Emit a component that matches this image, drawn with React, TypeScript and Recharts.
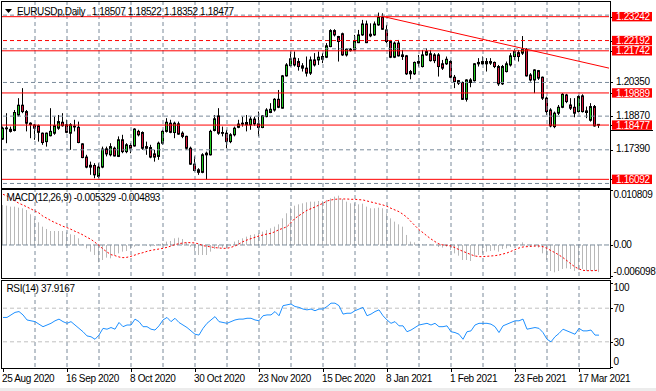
import React from "react";
import { ComposedChart, Bar, Line, XAxis, YAxis, ReferenceLine } from "recharts";

const FONT = "'Liberation Sans', Arial, sans-serif";
const GREEN = "#20cc20";
const RED = "#d8143a";
const GRID = "#7a8a9a";

// daily bars, 25 Aug 2020 .. 24 Mar 2021
const dateLabels = ["25 Aug 2020", "16 Sep 2020", "8 Oct 2020", "30 Oct 2020", "23 Nov 2020", "15 Dec 2020", "8 Jan 2021", "1 Feb 2021", "23 Feb 2021", "17 Mar 2021"];
const dateIdx = [0, 16, 32, 48, 64, 80, 96, 112, 128, 144];
const gridIdx = [8, 16, 24, 32, 40, 48, 56, 64, 72, 80, 88, 96, 104, 112, 120, 128, 136, 144];

const open = [
  1.1786, 1.1834, 1.1829, 1.1824, 1.1892, 1.1935, 1.1907, 1.1856, 1.1848, 1.1845,
  1.1812, 1.1775, 1.1801, 1.1812, 1.1834, 1.1860, 1.1849, 1.1812, 1.1843, 1.1838,
  1.1765, 1.1707, 1.1671, 1.1670, 1.1622, 1.1663, 1.1743, 1.1717, 1.1746, 1.1710,
  1.1783, 1.1731, 1.1758, 1.1756, 1.1820, 1.1815, 1.1753, 1.1749, 1.1721, 1.1710,
  1.1768, 1.1820, 1.1856, 1.1815, 1.1853, 1.1812, 1.1798, 1.1746, 1.1676, 1.1651,
  1.1640, 1.1717, 1.1717, 1.1824, 1.1888, 1.1815, 1.1812, 1.1775, 1.1805, 1.1838,
  1.1852, 1.1859, 1.1849, 1.1874, 1.1853, 1.1837, 1.1885, 1.1903, 1.1914, 1.1961,
  1.1922, 1.2064, 1.2109, 1.2142, 1.2127, 1.2108, 1.2098, 1.2076, 1.2134, 1.2134,
  1.2137, 1.2146, 1.2193, 1.2263, 1.2237, 1.2249, 1.2156, 1.2181, 1.2178, 1.2210,
  1.2244, 1.2292, 1.2240, 1.2244, 1.2288, 1.2322, 1.2266, 1.2215, 1.2146, 1.2208,
  1.2156, 1.2152, 1.2083, 1.2073, 1.2120, 1.2105, 1.2156, 1.2161, 1.2156, 1.2156,
  1.2117, 1.2117, 1.2127, 1.2058, 1.2043, 1.2035, 1.1961, 1.2046, 1.2043, 1.2117,
  1.2117, 1.2127, 1.2120, 1.2123, 1.2105, 1.2029, 1.2083, 1.2112, 1.2149, 1.2166,
  1.2164, 1.2181, 1.2068, 1.2046, 1.2087, 1.2058, 1.1966, 1.1914, 1.1841, 1.1900,
  1.1926, 1.1980, 1.1936, 1.1926, 1.1907, 1.1976, 1.1910, 1.1869, 1.1929, 1.18507,
];
const high = [
  1.1841, 1.1900, 1.1841, 1.1914, 1.1966, 1.2010, 1.1914, 1.1860, 1.1852, 1.1850,
  1.1815, 1.1815, 1.1922, 1.1885, 1.1892, 1.1900, 1.1871, 1.1856, 1.1871, 1.1863,
  1.1768, 1.1717, 1.1687, 1.1680, 1.1680, 1.1753, 1.1753, 1.1768, 1.1753, 1.1798,
  1.1805, 1.1768, 1.1768, 1.1834, 1.1827, 1.1820, 1.1775, 1.1761, 1.1739, 1.1775,
  1.1827, 1.1878, 1.1871, 1.1863, 1.1863, 1.1820, 1.1801, 1.1753, 1.1710, 1.1658,
  1.1724, 1.1731, 1.1827, 1.1892, 1.1922, 1.1841, 1.1827, 1.1812, 1.1841, 1.1871,
  1.1885, 1.1892, 1.1885, 1.1885, 1.1907, 1.1892, 1.1922, 1.1944, 1.1966, 1.2002,
  1.2068, 1.2120, 1.2171, 1.2171, 1.2142, 1.2120, 1.2149, 1.2149, 1.2164, 1.2171,
  1.2164, 1.2208, 1.2269, 1.2269, 1.2240, 1.2254, 1.2186, 1.2186, 1.2244, 1.2266,
  1.2310, 1.2307, 1.2295, 1.2303, 1.2342, 1.2339, 1.2288, 1.2222, 1.2215, 1.2222,
  1.2178, 1.2156, 1.2090, 1.2127, 1.2156, 1.2178, 1.2186, 1.2178, 1.2164, 1.2164,
  1.2134, 1.2149, 1.2134, 1.2068, 1.2046, 1.2039, 1.2049, 1.2054, 1.2120, 1.2142,
  1.2149, 1.2142, 1.2142, 1.2127, 1.2112, 1.2112, 1.2127, 1.2164, 1.2181, 1.2178,
  1.2239, 1.2186, 1.2076, 1.2093, 1.2090, 1.2061, 1.1973, 1.1922, 1.1907, 1.1936,
  1.1988, 1.1985, 1.1966, 1.1966, 1.1980, 1.1983, 1.1929, 1.1944, 1.1936, 1.18522,
];
const low = [
  1.1783, 1.1768, 1.1815, 1.1820, 1.1885, 1.1900, 1.1820, 1.1790, 1.1783, 1.1775,
  1.1761, 1.1753, 1.1798, 1.1805, 1.1827, 1.1841, 1.1812, 1.1739, 1.1820, 1.1768,
  1.1702, 1.1658, 1.1629, 1.1614, 1.1614, 1.1658, 1.1710, 1.1710, 1.1710, 1.1707,
  1.1724, 1.1724, 1.1724, 1.1753, 1.1798, 1.1739, 1.1717, 1.1702, 1.1687, 1.1695,
  1.1761, 1.1815, 1.1812, 1.1790, 1.1805, 1.1790, 1.1739, 1.1673, 1.1644, 1.1629,
  1.1636, 1.1609, 1.1714, 1.1820, 1.1805, 1.1798, 1.1746, 1.1768, 1.1798, 1.1834,
  1.1841, 1.1820, 1.1827, 1.1845, 1.1798, 1.1834, 1.1882, 1.1900, 1.1907, 1.1922,
  1.1920, 1.2061, 1.2105, 1.2105, 1.2087, 1.2083, 1.2061, 1.2068, 1.2105, 1.2112,
  1.2120, 1.2142, 1.2190, 1.2237, 1.2127, 1.2152, 1.2149, 1.2171, 1.2175, 1.2208,
  1.2240, 1.2208, 1.2234, 1.2240, 1.2284, 1.2266, 1.2208, 1.2142, 1.2142, 1.2149,
  1.2134, 1.2068, 1.2049, 1.2068, 1.2105, 1.2101, 1.2152, 1.2127, 1.2120, 1.2061,
  1.2090, 1.2112, 1.2054, 1.2010, 1.2024, 1.1958, 1.1951, 1.2014, 1.2039, 1.2105,
  1.2112, 1.2083, 1.2112, 1.2098, 1.2020, 1.2024, 1.2079, 1.2105, 1.2134, 1.2127,
  1.2156, 1.2061, 1.2039, 1.1988, 1.2046, 1.1958, 1.1892, 1.1838, 1.1834, 1.1892,
  1.1922, 1.1944, 1.1914, 1.1882, 1.1903, 1.1903, 1.1878, 1.1863, 1.1841, 1.18352,
];
const close = [
  1.1834, 1.1835, 1.1820, 1.1903, 1.1935, 1.1907, 1.1856, 1.1850, 1.1834, 1.1816,
  1.1771, 1.1812, 1.1820, 1.1845, 1.1863, 1.1845, 1.1816, 1.1849, 1.1841, 1.1771,
  1.1705, 1.1663, 1.1663, 1.1629, 1.1663, 1.1742, 1.1721, 1.1753, 1.1712, 1.1783,
  1.1731, 1.1761, 1.1746, 1.1830, 1.1805, 1.1746, 1.1746, 1.1707, 1.1707, 1.1768,
  1.1820, 1.1860, 1.1816, 1.1856, 1.1808, 1.1798, 1.1746, 1.1676, 1.1648, 1.1640,
  1.1717, 1.1724, 1.1820, 1.1875, 1.1812, 1.1812, 1.1775, 1.1805, 1.1834, 1.1852,
  1.1856, 1.1849, 1.1874, 1.1853, 1.1837, 1.1888, 1.1914, 1.1917, 1.1961, 1.1926,
  1.2064, 1.2112, 1.2139, 1.2112, 1.2105, 1.2098, 1.2076, 1.2134, 1.2112, 1.2146,
  1.2149, 1.2196, 1.2263, 1.2244, 1.2215, 1.2156, 1.2181, 1.2175, 1.2218, 1.2244,
  1.2292, 1.2210, 1.2247, 1.2292, 1.2322, 1.2269, 1.2215, 1.2146, 1.2208, 1.2152,
  1.2149, 1.2073, 1.2073, 1.2123, 1.2127, 1.2156, 1.2171, 1.2131, 1.2131, 1.2105,
  1.2098, 1.2137, 1.2058, 1.2039, 1.2032, 1.1961, 1.2046, 1.2035, 1.2117, 1.2123,
  1.2127, 1.2117, 1.2127, 1.2105, 1.2029, 1.2105, 1.2117, 1.2152, 1.2171, 1.2149,
  1.2181, 1.2064, 1.2046, 1.2090, 1.2054, 1.1966, 1.1907, 1.1844, 1.1900, 1.1926,
  1.1983, 1.1951, 1.1922, 1.1900, 1.1973, 1.1907, 1.1903, 1.1929, 1.1844, 1.18477,
];

// MACD(12,26,9): main (histogram) and signal
const macd = [
  0.00786, 0.00773, 0.00754, 0.00754, 0.00734, 0.00721, 0.00688, 0.00603, 0.00524, 0.00446,
  0.0036, 0.00315, 0.00275, 0.00275, 0.00275, 0.00275, 0.00249, 0.0021, 0.00197, 0.00131,
  0.00013, -0.00066, -0.00131, -0.00197, -0.00341, -0.00295, -0.00249, -0.00262, -0.00197, -0.00164,
  -0.00131, -0.00118, -0.00079, -0.00033, -0.00013, -0.00002, -0.00013, -0.00033, -0.0002, 0.00013,
  0.00033, 0.00066, 0.00079, 0.00131, 0.00144, 0.00118, 0.00052, -0.00033, -0.00118, -0.00197,
  -0.00197, -0.00197, -0.00131, -0.00079, -0.00066, -0.00052, -0.00066, -0.00013, 0.00066, 0.00098,
  0.00131, 0.00164, 0.00197, 0.0021, 0.00229, 0.00262, 0.00295, 0.00328, 0.0036, 0.00406,
  0.00524, 0.00623, 0.00734, 0.00773, 0.00799, 0.00819, 0.00839, 0.00852, 0.00852, 0.00865,
  0.00865, 0.00885, 0.00917, 0.0095, 0.0097, 0.00904, 0.00852, 0.00819, 0.00819, 0.00799,
  0.00813, 0.00754, 0.00721, 0.00721, 0.00734, 0.00721, 0.00623, 0.00524, 0.00459, 0.00406,
  0.0036, 0.00197, 0.00066, 0.00052, 0.00026, 0.00013, 0.00013, 0.00013, -0.00002, -0.00039,
  -0.00052, -0.00033, -0.00098, -0.00164, -0.0021, -0.00295, -0.00295, -0.00315, -0.00229, -0.00197,
  -0.00164, -0.00131, -0.00118, -0.00105, -0.00131, -0.00079, -0.00066, -0.00039, -0.00013, 0.00013,
  0.00052, -0.00013, -0.00033, -0.00033, -0.00052, -0.00164, -0.00295, -0.00511, -0.00537, -0.00511,
  -0.00472, -0.00459, -0.00472, -0.00511, -0.00491, -0.00472, -0.00511, -0.00511, -0.00511, -0.005329,
];
const signal = [
  0.00996, 0.00963, 0.00917, 0.00865, 0.00819, 0.00786, 0.00747, 0.00708, 0.00668, 0.00629,
  0.00564, 0.00524, 0.00478, 0.00439, 0.00406, 0.00367, 0.00341, 0.00308, 0.00269, 0.00236,
  0.00197, 0.00151, 0.00111, 0.00052, -0.00007, -0.00079, -0.00138, -0.0019, -0.0021, -0.00236,
  -0.00249, -0.00242, -0.00223, -0.00197, -0.0017, -0.00151, -0.00125, -0.00105, -0.00092, -0.00079,
  -0.00066, -0.00046, -0.0002, 0.00007, 0.00026, 0.00039, 0.00046, 0.00046, 0.00039, 0.0002,
  -0.00013, -0.00026, -0.00039, -0.00052, -0.00059, -0.00066, -0.00066, -0.00046, -0.0002, 0.0002,
  0.00066, 0.00098, 0.00125, 0.00151, 0.00177, 0.00197, 0.00216, 0.00229, 0.00262, 0.00301,
  0.00328, 0.0036, 0.00439, 0.00524, 0.00577, 0.00629, 0.00682, 0.00714, 0.00747, 0.00786,
  0.00819, 0.00865, 0.00885, 0.00898, 0.00904, 0.00904, 0.00904, 0.00898, 0.00898, 0.00891,
  0.00885, 0.00865, 0.00845, 0.00826, 0.00806, 0.00786, 0.0076, 0.00721, 0.00688, 0.00655,
  0.00603, 0.00544, 0.00459, 0.0038, 0.00301, 0.00242, 0.00177, 0.00118, 0.00066, 0.0002,
  0.0, -0.00007, -0.0002, -0.00052, -0.00092, -0.00125, -0.00157, -0.0019, -0.00216, -0.00229,
  -0.00229, -0.00223, -0.00216, -0.0021, -0.00197, -0.00177, -0.00157, -0.00125, -0.00092, -0.00059,
  -0.00039, -0.00033, -0.00026, -0.0002, -0.0002, -0.00033, -0.00066, -0.00111, -0.00151, -0.00197,
  -0.00249, -0.00308, -0.00374, -0.00432, -0.00472, -0.00498, -0.00505, -0.00505, -0.00505, -0.004893,
];

// RSI(14)
const rsi = [
  59, 59, 62, 65, 66, 62, 56, 55, 54, 51,
  48, 50, 52, 55, 57, 54, 52, 54, 50, 46,
  42, 37, 36, 33, 38, 46, 45, 47, 45, 53,
  48, 50, 50, 57, 54, 48, 48, 45, 44, 49,
  56, 59, 54, 58, 53, 50, 47, 43, 39, 38,
  46, 52, 56, 60, 54, 53, 52, 54, 56, 57,
  57, 58, 58, 56, 55, 61, 62, 62, 66, 61,
  73, 74, 75, 72, 71, 69, 68, 69, 67, 69,
  69, 72, 76, 76, 73, 63, 64, 64, 67, 69,
  71, 61, 63, 66, 68, 61, 56, 52, 54, 49,
  49, 42, 44, 47, 50, 51, 52, 50, 52, 48,
  48, 49, 42, 41, 39, 33, 42, 43, 50, 52,
  52, 52, 51, 48, 41, 49, 51, 53, 55, 55,
  57, 45, 46, 47, 46, 41, 33, 30, 36, 40,
  45, 43, 41, 39, 46, 43, 43, 44, 38, 37.9167,
];

const levels = [1.23242, 1.22192, 1.21742, 1.19889, 1.18477, 1.16092];
const dashedLevel = 1.22192;
const lastPrice = 1.18477;
const priceTicks = [1.2035, 1.1887, 1.1739];
const priceGrid = [1.2331, 1.2183, 1.2035, 1.1887, 1.1739, 1.1591];
const macdTicks = [0.010809, 0, -0.006098];
const macdTickText = ["0.010809", "0.00", "-0.006098"];
const rsiTicks = [100, 70, 30, 0];
const rsiLevels = [70, 30];
const trend = [{ x: 95, y: 1.2325 }, { x: 151.5, y: 1.2098 }];

const rows = open.map((o, i) => ({
  i,
  open: o,
  high: high[i],
  low: low[i],
  close: close[i],
  range: [low[i], high[i]],
  macd: macd[i],
  signal: signal[i],
  rsi: rsi[i],
}));

const X_DOMAIN: [number, number] = [-0.25, 151.5];
const txt = { fontFamily: FONT, fontSize: 10, letterSpacing: -0.35 };

const Candle = (props: any) => {
  const { x, y, width, height, payload } = props;
  if (x == null || !payload) return null;
  const cx = Math.floor(x + width / 2) + 0.5;
  const span = payload.high - payload.low || 1e-9;
  const toY = (v: number) => y + ((payload.high - v) / span) * height;
  const yo = toY(payload.open);
  const yc = toY(payload.close);
  const top = Math.min(yo, yc);
  const bot = Math.max(yo, yc);
  const up = payload.close >= payload.open;
  return (
    <g>
      <line x1={cx} x2={cx} y1={y} y2={y + height} stroke="#000" strokeWidth={1} />
      <rect x={cx - 1} y={top} width={2} height={Math.max(bot - top, 0.8)} fill={up ? GREEN : RED} stroke="#000" strokeWidth={1} />
    </g>
  );
};

const HistBar = (props: any) => {
  const { x, y, width, height } = props;
  if (x == null) return null;
  const top = Math.min(y, y + height);
  return <rect x={Math.floor(x + width / 2)} y={top} width={1} height={Math.abs(height)} fill="#b8b8b8" />;
};

const PriceTick = (p: any) => {
  const v = p.payload.value;
  const y = p.y;
  const isLevel = levels.includes(v);
  return (
    <g>
      <line x1={610} x2={613} y1={Math.round(y) + 0.5} y2={Math.round(y) + 0.5} stroke="#000" />
      {isLevel && <rect x={612} y={y - 4.7} width={40} height={9.4} fill="#ff0000" />}
      {v === lastPrice && <line x1={610} x2={653} y1={Math.round(y + 4.7) + 0.5} y2={Math.round(y + 4.7) + 0.5} stroke="#000" />}
      <text x={616} y={y + (isLevel ? 3.6 : 2.6)} {...txt} fill={isLevel ? "#fff" : "#000"}>{v.toFixed(5)}</text>
    </g>
  );
};

const MacdTick = (p: any) => {
  const v = p.payload.value;
  const k = macdTicks.indexOf(v);
  const dy = [8, 3.5, -1.5][k] ?? 3.5;
  return (
    <g>
      <line x1={610} x2={613} y1={Math.round(p.y) + 0.5} y2={Math.round(p.y) + 0.5} stroke="#000" />
      <text x={613.5} y={p.y + dy} {...txt} fill="#000">{macdTickText[k]}</text>
    </g>
  );
};

const RsiTick = (p: any) => {
  const v = p.payload.value;
  const dy = v === 100 ? 7.5 : v === 0 ? -1.8 : 4;
  return (
    <g>
      <line x1={610} x2={613} y1={Math.round(p.y) + 0.5} y2={Math.round(p.y) + 0.5} stroke="#000" />
      <text x={613.5} y={p.y + dy} {...txt} fill="#000">{String(v)}</text>
    </g>
  );
};

const TimeTick = (p: any) => {
  const k = dateIdx.indexOf(p.payload.value);
  const x = Math.round(p.x) + 0.5;
  return (
    <g>
      <line x1={x} x2={x} y1={88} y2={92} stroke="#000" />
      <text x={p.x - 1} y={101.7} {...txt} fill="#000">{dateLabels[k]}</text>
    </g>
  );
};

const vGrid = () =>
  gridIdx.map((g) => (
    <ReferenceLine key={`vg${g}`} x={g} stroke={GRID} strokeDasharray="4 3" ifOverflow="hidden" />
  ));

export default function App() {
  return (
    <div style={{ position: "absolute", left: 0, top: 0, width: 656, height: 391, background: "#fff", overflow: "hidden" }}>
      <div style={{ position: "absolute", left: 0, top: 0 }}>
        <ComposedChart width={656} height={190} data={rows} margin={{ top: 2, right: 0, bottom: 3, left: 2 }}>
          <XAxis type="number" dataKey="i" domain={X_DOMAIN} hide allowDataOverflow />
          <YAxis
            orientation="right"
            width={47}
            domain={[1.15755, 1.23887]}
            allowDataOverflow
            ticks={[...priceTicks, ...levels]}
            interval={0}
            axisLine={false}
            tickLine={false}
            tick={(p: any) => <PriceTick {...p} />}
          />
          {vGrid()}
          {priceGrid.map((g) => (
            <ReferenceLine key={`hg${g}`} y={g} stroke={GRID} strokeDasharray="4 3" ifOverflow="hidden" />
          ))}
          {levels.map((l) => (
            <ReferenceLine key={`lv${l}`} y={l} stroke="#ff0000" strokeDasharray={l === dashedLevel ? "4 3" : undefined} />
          ))}
          <ReferenceLine segment={trend} stroke="#ff0000" ifOverflow="hidden" />
          <Bar dataKey="range" barSize={3} shape={(p: any) => <Candle {...p} />} isAnimationActive={false} />
        </ComposedChart>
      </div>

      <div style={{ position: "absolute", left: 0, top: 190 }}>
        <ComposedChart width={656} height={88} data={rows} margin={{ top: 0, right: 0, bottom: 2, left: 2 }}>
          <XAxis type="number" dataKey="i" domain={X_DOMAIN} hide allowDataOverflow />
          <YAxis
            orientation="right"
            width={47}
            domain={[-0.006098, 0.010809]}
            allowDataOverflow
            ticks={macdTicks}
            interval={0}
            axisLine={false}
            tickLine={false}
            tick={(p: any) => <MacdTick {...p} />}
          />
          {vGrid()}
          <ReferenceLine y={0} stroke={GRID} strokeDasharray="5 2" />
          <Bar dataKey="macd" barSize={1} shape={(p: any) => <HistBar {...p} />} isAnimationActive={false} />
          <Line dataKey="signal" stroke="#ff0000" strokeDasharray="2 2" dot={false} strokeWidth={1} isAnimationActive={false} />
        </ComposedChart>
      </div>

      <div style={{ position: "absolute", left: 0, top: 280 }}>
        <ComposedChart width={656} height={111} data={rows} margin={{ top: 3, right: 0, bottom: 0, left: 2 }}>
          <XAxis
            type="number"
            dataKey="i"
            domain={X_DOMAIN}
            allowDataOverflow
            ticks={dateIdx}
            interval={0}
            height={24}
            axisLine={false}
            tickLine={false}
            tick={(p: any) => <TimeTick {...p} />}
          />
          <YAxis
            orientation="right"
            width={47}
            domain={[0, 100]}
            allowDataOverflow
            ticks={rsiTicks}
            interval={0}
            axisLine={false}
            tickLine={false}
            tick={(p: any) => <RsiTick {...p} />}
          />
          {vGrid()}
          {rsiLevels.map((l) => (
            <ReferenceLine key={`rl${l}`} y={l} stroke="#c0c0c0" strokeDasharray="4 3" />
          ))}
          <Line dataKey="rsi" stroke="#1e90ff" dot={false} strokeWidth={1} isAnimationActive={false} />
        </ComposedChart>
      </div>

      <svg width={656} height={391} style={{ position: "absolute", left: 0, top: 0, pointerEvents: "none" }}>
        <rect x={1.5} y={1.5} width={609} height={187} fill="none" stroke="#000" />
        <rect x={1.5} y={189.5} width={609} height={89} fill="none" stroke="#000" />
        <rect x={1.5} y={280.5} width={609} height={88} fill="none" stroke="#000" />
        <rect x={0} y={388} width={656} height={3} fill="#ececec" />
        <polygon points="5,9 12,9 8.5,13" fill="#000" />
        <text x={17} y={14.7} {...txt} fill="#000">EURUSDp,Daily</text>
        <text x={91.7} y={14.7} {...txt} fill="#000">1.18507 1.18522 1.18352 1.18477</text>
        <text x={6.5} y={200.5} {...txt} fill="#000">MACD(12,26,9) -0.005329 -0.004893</text>
        <text x={6.5} y={291.5} {...txt} fill="#000">RSI(14) 37.9167</text>
      </svg>
    </div>
  );
}
